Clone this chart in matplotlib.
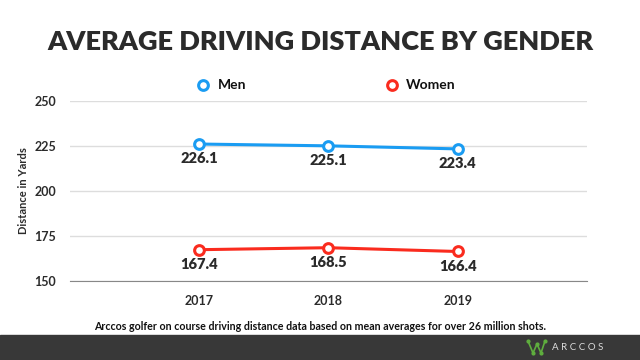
import matplotlib
matplotlib.use("Agg")
from matplotlib import pyplot as plt
from matplotlib.patches import Rectangle

years = ["2017", "2018", "2019"]
men = [226.1, 225.1, 223.4]
women = [167.4, 168.5, 166.4]
y_ticks = [150, 175, 200, 225, 250]

plt.rcParams['font.family'] = ['Lato', 'DejaVu Sans']

blue = "#1a9cf2"
red = "#fa2b1e"
dark = "#2b2b2b"

fig = plt.figure(figsize=(6.4, 3.6), dpi=100)
ax = fig.add_axes([0.109, 0.2194, 0.808, 0.5])

x = list(range(len(years)))
ax.plot(x, men, color=blue, lw=2.2, marker="o", ms=7, mfc="white",
        mec=blue, mew=2.2, zorder=3)
ax.plot(x, women, color=red, lw=2.2, marker="o", ms=7, mfc="white",
        mec=red, mew=2.2, zorder=3)
for xi, v in zip(x, men):
    ax.annotate(f"{v:.1f}", (xi, v), xytext=(0, -6), textcoords="offset points",
                ha="center", va="top", fontsize=10.5, fontweight="heavy", color=dark)
for xi, v in zip(x, women):
    ax.annotate(f"{v:.1f}", (xi, v), xytext=(0, -6), textcoords="offset points",
                ha="center", va="top", fontsize=10.5, fontweight="heavy", color=dark)

ax.set_xlim(-1, 3)
ax.set_ylim(150, 250)
ax.set_yticks(y_ticks)
ax.set_xticks(x)
ax.set_xticklabels(years)
ax.yaxis.grid(True, color="#dddddd", lw=1)
ax.set_axisbelow(True)
for s in ["top", "right", "left"]:
    ax.spines[s].set_visible(False)
ax.spines["bottom"].set_color("#888888")
ax.tick_params(length=0, labelsize=9, colors=dark, pad=10)
for lab in ax.get_xticklabels() + ax.get_yticklabels():
    lab.set_fontweight("bold")
ax.set_ylabel("Distance in Yards", fontsize=8, fontweight="bold", color=dark,
              labelpad=4)

fig.text(0.5, 0.883, "AVERAGE DRIVING DISTANCE BY GENDER", ha="center",
         va="center", fontsize=19.5, fontweight="heavy", color=dark)

# legend
fig.lines.append(plt.Line2D([203 / 640], [1 - 85 / 360], marker="o", ms=7,
                            mfc="white", mec=blue, mew=2.2,
                            transform=fig.transFigure))
fig.text(218 / 640, 1 - 85 / 360, "Men", va="center", fontsize=10,
         fontweight="bold", color="#111111")
fig.lines.append(plt.Line2D([392 / 640], [1 - 85 / 360], marker="o", ms=7,
                            mfc="white", mec=red, mew=2.2,
                            transform=fig.transFigure))
fig.text(406 / 640, 1 - 85 / 360, "Women", va="center", fontsize=10,
         fontweight="bold", color="#111111")

fig.text(0.5, 1 - 327 / 360,
         "Arccos golfer on course driving distance data based on mean averages for over 26 million shots.",
         ha="center", va="center", fontsize=7.7, fontweight="bold", color="#111111")

# footer bar with logo
fig.patches.append(Rectangle((0, 0), 1, 25 / 360, transform=fig.transFigure,
                             color="#383838", zorder=0))
fig.lines.append(plt.Line2D([528 / 640, 533 / 640, 537 / 640, 541 / 640, 545 / 640],
                            [1 - 341 / 360, 1 - 353 / 360, 1 - 344 / 360,
                             1 - 353 / 360, 1 - 341 / 360],
                            color="#5fae3e", lw=1.2, marker="o", ms=2,
                            transform=fig.transFigure))
fig.text(552 / 640, 1 - 347 / 360, "A R C C O S", va="center", fontsize=7,
         color="#dddddd")

fig.savefig("out.png", dpi=100)
